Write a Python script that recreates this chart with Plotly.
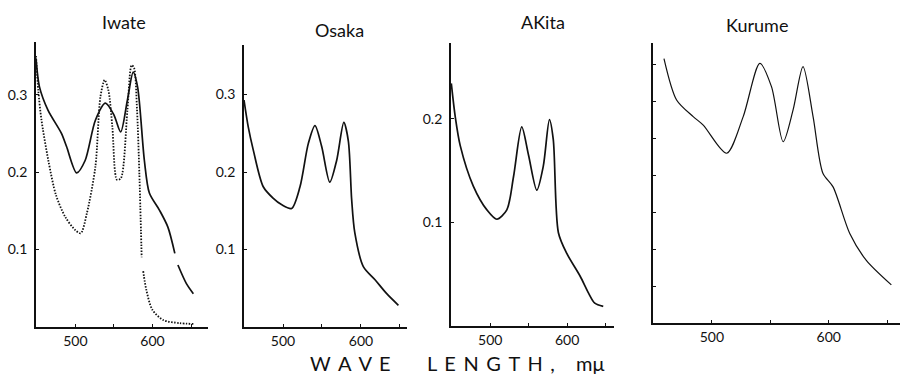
import plotly.graph_objects as go

# ---------------- data ----------------
iwate_wl = [449, 453.5, 464.5, 482, 488.6, 501.7, 512.7, 526, 539, 550, 558.8, 567.5, 575, 580.7, 589.5, 596, 609, 620, 629, None, 633, 644, 653]
iwate_abs = [0.347, 0.310, 0.280, 0.250, 0.233, 0.199, 0.215, 0.267, 0.289, 0.274, 0.252, 0.293, 0.329, 0.310, 0.215, 0.173, 0.151, 0.129, 0.095, None, 0.080, 0.056, 0.043]

iwate2_wl = [449, 452, 456, 465, 475, 487, 500, 507, 515, 526, 532.5, 538, 543, 548, 554, 559, 567.5, 573, 576, 580, 583, 586, None, 588, 592, 600, 614, 635, 653]
iwate2_abs = [0.350, 0.305, 0.268, 0.215, 0.170, 0.142, 0.125, 0.121, 0.147, 0.207, 0.297, 0.319, 0.305, 0.258, 0.190, 0.192, 0.280, 0.338, 0.335, 0.280, 0.198, 0.090, None, 0.072, 0.048, 0.022, 0.009, 0.005, 0.004]

osaka_wl = [450, 455.5, 462, 474.7, 487.6, 498, 511, 521.8, 532.5, 541, 549.6, 560, 568.8, 578, 583.8, 588, 592, 603, 618, 633, 648]
osaka_abs = [0.293, 0.258, 0.228, 0.181, 0.166, 0.158, 0.153, 0.181, 0.237, 0.260, 0.233, 0.187, 0.215, 0.264, 0.240, 0.165, 0.122, 0.078, 0.061, 0.043, 0.028]

akita_wl = [449.4, 454.5, 461, 478, 495.7, 508.7, 521.6, 530.3, 541, 549.8, 560.6, 569, 577, 582, 588.7, 599.6, 617, 627.7, 636, 647]
akita_abs = [0.234, 0.202, 0.174, 0.135, 0.112, 0.103, 0.112, 0.144, 0.192, 0.165, 0.131, 0.154, 0.199, 0.180, 0.090, 0.070, 0.048, 0.032, 0.022, 0.019]

kurume_wl = [459, 469.8, 484, 492.6, 512.6, 526.8, 541, 551, 561, 569.5, 578, 586.6, 595, 603.7, 618, 632, 653.6]
kurume_abs = [0.715, 0.603, 0.558, 0.535, 0.459, 0.558, 0.702, 0.639, 0.490, 0.576, 0.693, 0.558, 0.405, 0.368, 0.242, 0.170, 0.103]

titles = ["Iwate", "Osaka", "AKita", "Kurume"]
x_tickvals = [500, 550, 600, 650]
x_ticktext = ["500", "", "600", ""]
y_ticks_13 = [0.1, 0.2, 0.3]
y_ticklabels_13 = ["0.1", "0.2", "0.3"]
y_ticks_akita = [0.1, 0.2]
y_ticklabels_akita = ["0.1", "0.2"]
y_ticks_kurume = [0.1, 0.2, 0.3, 0.4, 0.5, 0.6, 0.7]
axis_label_parts = ["W \u2009A \u2009V \u2009E", "L \u2009E \u2009N \u2009G \u2009T \u2009H \u2009,", "m\u03bc"]

# ---------------- figure ----------------
W, H = 900, 377
FONT = "Lato"
BLACK = "#111111"

def px_x(p):
    return p / W

def px_y(p):
    return 1 - p / H

fig = go.Figure()

line = dict(color=BLACK, width=1.7, shape="spline", smoothing=0.8)
fig.add_trace(go.Scatter(x=iwate_wl, y=iwate_abs, mode="lines", line=line, xaxis="x", yaxis="y", connectgaps=False))
fig.add_trace(go.Scatter(x=iwate2_wl, y=iwate2_abs, mode="lines",
                         line=dict(color=BLACK, width=1.8, dash="1.5px,1.5px", shape="spline", smoothing=0.8),
                         xaxis="x", yaxis="y", connectgaps=False))
fig.add_trace(go.Scatter(x=osaka_wl, y=osaka_abs, mode="lines", line=line, xaxis="x2", yaxis="y2"))
fig.add_trace(go.Scatter(x=akita_wl, y=akita_abs, mode="lines", line=line, xaxis="x3", yaxis="y3"))
fig.add_trace(go.Scatter(x=kurume_wl, y=kurume_abs, mode="lines",
                         line=dict(color=BLACK, width=1.2, shape="spline", smoothing=0.8),
                         xaxis="x4", yaxis="y4"))

panels = [
    ((36, 208), (42, 327), [449, 672], [0, 0.368], y_ticks_13, y_ticklabels_13),
    ((244, 407), (45, 327), [450, 659], [0, 0.364], y_ticks_13, y_ticklabels_13),
    ((451, 614), (43, 326), [449, 661], [0, 0.273], y_ticks_akita, y_ticklabels_akita),
    ((653, 900), (43, 323), [449.6, 661], [0, 0.757], y_ticks_kurume, [""] * len(y_ticks_kurume)),
]

tickfont = dict(family=FONT, size=14, color=BLACK)
layout = {}
for i, (xd, yd, xr, yr, yt, yl) in enumerate(panels, start=1):
    xk = "xaxis" if i == 1 else f"xaxis{i}"
    yk = "yaxis" if i == 1 else f"yaxis{i}"
    ya = "y" if i == 1 else f"y{i}"
    xa = "x" if i == 1 else f"x{i}"
    layout[xk] = dict(domain=[px_x(xd[0]), px_x(xd[1])], range=xr, anchor=ya,
                      showline=True, linecolor=BLACK, linewidth=1.8, mirror=False,
                      showgrid=False, zeroline=False,
                      tickmode="array", tickvals=x_tickvals, ticktext=x_ticktext,
                      ticks="inside", ticklen=3, tickcolor=BLACK, tickwidth=1,
                      tickfont=tickfont, fixedrange=True)
    layout[yk] = dict(domain=[px_y(yd[1]), px_y(yd[0])], range=yr, anchor=xa,
                      showline=True, linecolor=BLACK, linewidth=1.8,
                      showgrid=False, zeroline=False,
                      tickmode="array", tickvals=yt, ticktext=yl,
                      ticks="inside", ticklen=3, tickcolor=BLACK, tickwidth=1,
                      ticklabelstandoff=4,
                      tickfont=tickfont, fixedrange=True)

annotations = []
title_pos = [(124, 22), (339, 30), (543, 22), (757, 25)]
for t, (cx, cy) in zip(titles, title_pos):
    annotations.append(dict(text=t, x=px_x(cx), y=px_y(cy), xref="paper", yref="paper",
                            xanchor="center", yanchor="middle", showarrow=False,
                            font=dict(family=FONT, size=18, color=BLACK)))
label_pos = [(350, 363), (491, 363), (590, 363)]
for t, (cx, cy) in zip(axis_label_parts, label_pos):
    annotations.append(dict(text=t, x=px_x(cx), y=px_y(cy), xref="paper", yref="paper",
                            xanchor="center", yanchor="middle", showarrow=False,
                            borderpad=0,
                            font=dict(family=FONT, size=20, color=BLACK)))

fig.update_layout(
    width=W, height=H,
    margin=dict(l=0, r=0, t=0, b=0),
    paper_bgcolor="white", plot_bgcolor="white",
    showlegend=False,
    annotations=annotations,
    **layout,
)

fig.write_html("out.html", config={"displayModeBar": False},
               post_script="document.body.style.margin='0';document.body.style.overflow='hidden';")
